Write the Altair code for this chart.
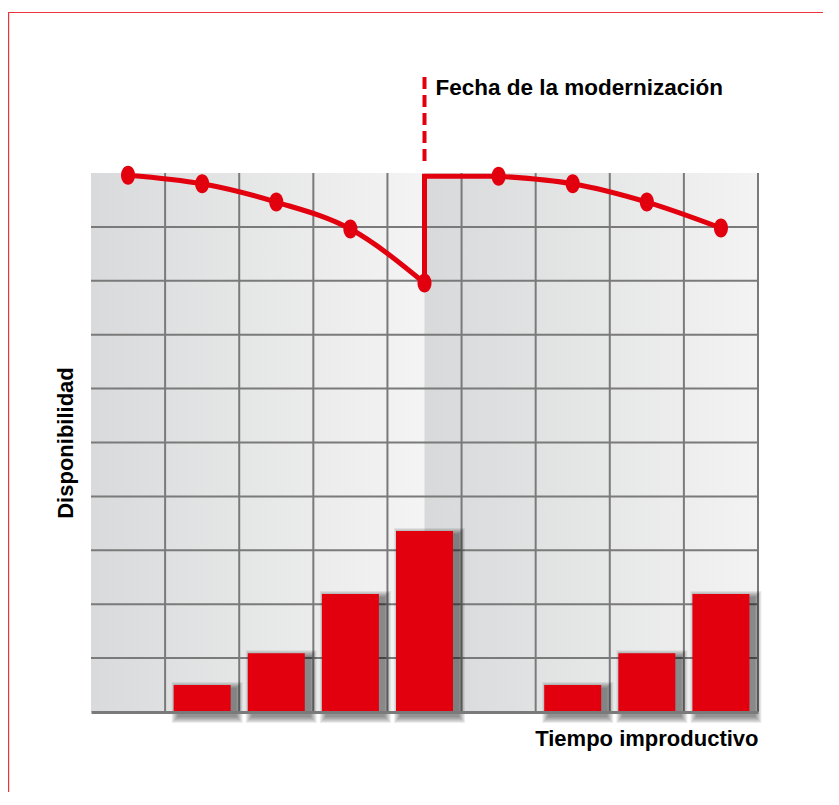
import altair as alt
import pandas as pd

RED = "#e2000f"
FRAME_RED = "#e8343c"
GRID = "#7a7a7a"
FONT = "Liberation Sans"

# ---- data ----
before_x = [0.5, 1.5, 2.5, 3.5, 4.5]
before_avail = [9.96, 9.80, 9.46, 8.96, 7.96]
after_x = [5.5, 6.5, 7.5, 8.5]
after_avail = [9.94, 9.80, 9.46, 8.98]
bar_x = [1.5, 2.5, 3.5, 4.5, 6.5, 7.5, 8.5]
bar_downtime = [0.50, 1.09, 2.19, 3.36, 0.50, 1.09, 2.19]
modernization_x = 4.5
modernization_label = "Fecha de la modernización"
x_title = "Tiempo improductivo"
y_title = "Disponibilidad"
grid_values = [1, 2, 3, 4, 5, 6, 7, 8, 9]
x_domain = [0, 9]
y_domain = [0, 10]

W, H = 667, 539

before_df = pd.DataFrame({"x": before_x, "y": before_avail})
after_df = pd.DataFrame({"x": after_x, "y": after_avail})
step_df = pd.DataFrame({
    "x": [modernization_x, modernization_x, after_x[0]],
    "y": [before_avail[-1], after_avail[0], after_avail[0]],
    "o": [0, 1, 2],
})
points_df = pd.concat([before_df, after_df], ignore_index=True)
bars_df = pd.DataFrame({"x": bar_x, "y": bar_downtime})
mod_df = pd.DataFrame({"x": [modernization_x], "label": [modernization_label]})
grid_df = pd.DataFrame({"v": grid_values})
bg_df = pd.DataFrame({"x0": [x_domain[0]], "x1": [x_domain[1]], "y0": [y_domain[0]], "y1": [y_domain[1]]})
one = pd.DataFrame({"k": [0]})

xscale = alt.Scale(domain=x_domain, nice=False, zero=False, padding=0)
yscale = alt.Scale(domain=y_domain, nice=False, zero=False, padding=0)

x_axis = alt.Axis(values=grid_values, grid=False,
                  labels=False, ticks=False, domain=True, domainColor=GRID, domainWidth=3,
                  title=x_title, titleAnchor="end", titleAlign="right", titlePadding=16,
                  titleFont=FONT, titleFontSize=22, titleFontWeight="bold", titleColor="#000000",
                  zindex=1)
y_axis = alt.Axis(values=grid_values, grid=False,
                  labels=False, ticks=False, domain=False,
                  title=y_title, titleAnchor="middle", titlePadding=14,
                  titleFont=FONT, titleFontSize=22, titleFontWeight="bold", titleColor="#000000")


def X(field="x"):
    return alt.X(f"{field}:Q", scale=xscale, axis=x_axis)


def Y(field="y"):
    return alt.Y(f"{field}:Q", scale=yscale, axis=y_axis)


bg = alt.Gradient(
    gradient="linear", x1=0, x2=1, y1=0, y2=0,
    stops=[
        alt.GradientStop(offset=0, color="#d9dadb"),
        alt.GradientStop(offset=0.499, color="#f4f4f4"),
        alt.GradientStop(offset=0.501, color="#d8d9da"),
        alt.GradientStop(offset=1, color="#f3f3f3"),
    ],
)

layers = []

# background panel with two gradients
layers.append(
    alt.Chart(bg_df).mark_rect(fill=bg, strokeWidth=0)
    .encode(x=X("x0"), x2="x1:Q", y=Y("y0"), y2="y1:Q")
)

# grid lines
layers.append(
    alt.Chart(grid_df).mark_rule(color=GRID, strokeWidth=2)
    .encode(x=X("v"), y=alt.datum(y_domain[0], scale=yscale), y2=alt.datum(y_domain[1]))
)
layers.append(
    alt.Chart(grid_df).mark_rule(color=GRID, strokeWidth=2)
    .encode(y=Y("v"), x=alt.datum(x_domain[0]), x2=alt.datum(x_domain[1]))
)

# bar shadows (soft, offset down-right)
for i in range(1, 8):
    layers.append(
        alt.Chart(bars_df).mark_bar(width=57 + 2 * i, xOffset=5, yOffset=4 - i, y2Offset=4 + i,
                                    color="#000000", opacity=0.075)
        .encode(x=X(), y=Y(), y2=alt.datum(0))
    )

# bars
layers.append(
    alt.Chart(bars_df).mark_bar(width=57, color=RED).encode(x=X(), y=Y(), y2=alt.datum(0))
)

# availability curves
layers.append(
    alt.Chart(before_df).mark_line(color=RED, strokeWidth=5, interpolate="monotone")
    .encode(x=X(), y=Y())
)
layers.append(
    alt.Chart(after_df).mark_line(color=RED, strokeWidth=5, interpolate="monotone")
    .encode(x=X(), y=Y())
)
layers.append(
    alt.Chart(step_df).mark_line(color=RED, strokeWidth=5, interpolate="linear", strokeJoin="miter")
    .encode(x=X(), y=Y(), order="o:O")
)

ellipse = "M -0.74 0 A 0.74 1 0 1 0 0.74 0 A 0.74 1 0 1 0 -0.74 0 Z"
layers.append(
    alt.Chart(points_df).mark_point(shape=ellipse, size=361, filled=True, color=RED, opacity=1)
    .encode(x=X(), y=Y())
)

# dashed modernization marker above the plot
layers.append(
    alt.Chart(mod_df).mark_rule(color=RED, strokeWidth=4, strokeDash=[12, 6])
    .encode(x=X(), y=alt.value(-96), y2=alt.value(-7))
)
layers.append(
    alt.Chart(mod_df).mark_text(align="left", baseline="alphabetic", dx=11, font=FONT,
                                fontSize=22.5, fontWeight="bold", color="#000000")
    .encode(x=X(), y=alt.value(-78), text="label:N")
)

# thin red page frame (top and left)
layers.append(
    alt.Chart(one).mark_rule(color=FRAME_RED, strokeWidth=1.2)
    .encode(x=alt.value(-83), x2=alt.value(740), y=alt.value(-160.5))
)
layers.append(
    alt.Chart(one).mark_rule(color=FRAME_RED, strokeWidth=1.2)
    .encode(x=alt.value(-82.4), y=alt.value(-160.5), y2=alt.value(630))
)

chart = (
    alt.layer(*layers)
    .properties(
        width=W, height=H,
        padding={"left": 83, "top": 165, "right": 65, "bottom": 80},
        autosize=alt.AutoSizeParams(type="none"),
        background="#ffffff",
    )
    .configure_view(strokeWidth=0)
)

chart.save("out.html", embed_options={"renderer": "svg", "actions": False})
